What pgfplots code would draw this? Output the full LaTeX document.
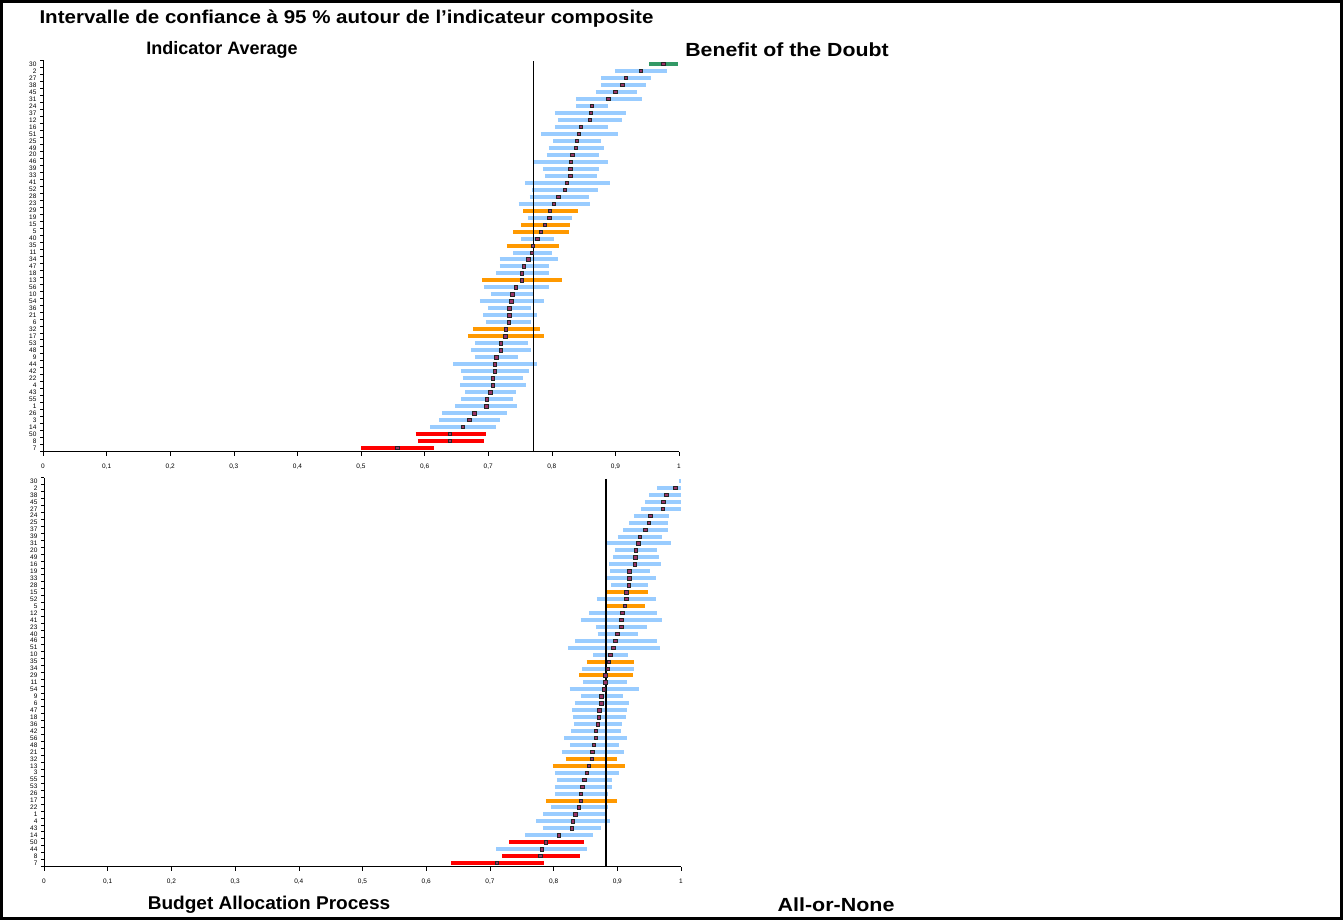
\documentclass[border=0pt]{standalone}
\usepackage{pgfplots}
\pgfplotsset{compat=1.18}
\usepackage{pgfplotstable}
\usepackage{fontspec}
\setmainfont{Liberation Sans}
\definecolor{cblue}{HTML}{99CCFF}
\definecolor{corange}{HTML}{FF9900}
\definecolor{cred}{HTML}{FF0000}
\definecolor{cgreen}{HTML}{339966}
\definecolor{cmark}{HTML}{993366}

% ---------- Indicator Average (top panel) ----------
\pgfplotstableread{
y lo m hi
54 0.899 0.940 0.981
53 0.877 0.916 0.956
52 0.877 0.911 0.948
51 0.869 0.900 0.934
50 0.838 0.889 0.942
49 0.838 0.863 0.889
48 0.805 0.861 0.917
47 0.809 0.860 0.910
46 0.805 0.846 0.888
45 0.783 0.842 0.904
44 0.802 0.839 0.877
43 0.795 0.838 0.882
42 0.792 0.832 0.874
41 0.772 0.830 0.889
40 0.786 0.829 0.874
39 0.789 0.829 0.871
38 0.758 0.824 0.891
37 0.769 0.820 0.872
36 0.765 0.810 0.858
35 0.748 0.803 0.860
33 0.763 0.796 0.831
30 0.752 0.777 0.803
28 0.739 0.769 0.801
27 0.718 0.763 0.809
26 0.718 0.756 0.796
25 0.712 0.753 0.795
23 0.693 0.743 0.795
22 0.704 0.738 0.772
21 0.687 0.736 0.788
20 0.700 0.733 0.767
19 0.692 0.733 0.776
18 0.696 0.732 0.768
15 0.679 0.720 0.763
14 0.673 0.720 0.767
13 0.679 0.713 0.747
12 0.645 0.710 0.777
11 0.657 0.710 0.764
10 0.660 0.707 0.755
9 0.656 0.707 0.759
8 0.664 0.703 0.743
7 0.658 0.698 0.739
6 0.648 0.697 0.746
5 0.627 0.678 0.730
4 0.623 0.670 0.719
3 0.609 0.660 0.713
}\topblue
\pgfplotstableread{
y lo m hi
34 0.755 0.797 0.841
32 0.752 0.789 0.828
31 0.739 0.783 0.827
29 0.729 0.770 0.812
24 0.690 0.753 0.816
17 0.676 0.728 0.781
16 0.668 0.727 0.788
}\toporange
\pgfplotstableread{
y lo m hi
2 0.586 0.640 0.697
1 0.589 0.640 0.693
0 0.500 0.557 0.615
}\topred
\pgfplotstableread{
y lo m hi
55 0.953 0.975 0.998
}\topgreen

% ---------- Budget Allocation Process (bottom panel) ----------
\pgfplotstableread{
y lo m hi
55 0.997 1.000 1.000
54 0.963 0.991 1.000
53 0.950 0.977 1.000
52 0.943 0.972 1.000
51 0.937 0.971 1.000
50 0.926 0.952 0.981
49 0.919 0.949 0.980
48 0.909 0.944 0.979
47 0.901 0.935 0.970
46 0.883 0.933 0.985
45 0.896 0.929 0.963
44 0.893 0.928 0.965
43 0.887 0.927 0.968
42 0.889 0.919 0.951
41 0.880 0.919 0.960
40 0.890 0.918 0.948
38 0.868 0.914 0.961
36 0.856 0.908 0.963
35 0.843 0.906 0.970
34 0.866 0.906 0.946
33 0.869 0.900 0.933
32 0.834 0.897 0.962
31 0.823 0.894 0.967
30 0.862 0.889 0.917
28 0.845 0.885 0.926
26 0.846 0.881 0.915
25 0.825 0.879 0.934
24 0.843 0.875 0.909
23 0.833 0.875 0.918
22 0.829 0.872 0.915
21 0.830 0.871 0.913
20 0.832 0.869 0.908
19 0.828 0.866 0.906
18 0.817 0.866 0.915
17 0.826 0.863 0.902
16 0.813 0.861 0.910
13 0.802 0.852 0.903
12 0.805 0.848 0.891
11 0.802 0.845 0.891
10 0.802 0.843 0.885
8 0.796 0.840 0.886
7 0.784 0.834 0.884
6 0.773 0.830 0.888
5 0.783 0.829 0.875
4 0.755 0.808 0.862
2 0.710 0.781 0.853
}\botblue
\pgfplotstableread{
y lo m hi
39 0.884 0.914 0.948
37 0.884 0.912 0.943
29 0.852 0.887 0.926
27 0.840 0.881 0.924
15 0.819 0.860 0.900
14 0.799 0.855 0.912
9 0.788 0.843 0.900
}\botorange
\pgfplotstableread{
y lo m hi
3 0.730 0.788 0.847
1 0.719 0.779 0.841
0 0.639 0.711 0.785
}\botred

\pgfplotsset{
  ciaxis/.style={
    scale only axis, anchor=south west,
    xmin=0, xmax=1, ymin=-0.5, ymax=55.5,
    axis lines*=left, axis line style={line width=0.9pt},
    clip=false,
    xtick={0,0.1,0.2,0.3,0.4,0.5,0.6,0.7,0.8,0.9,1},
    xticklabels={0,{0,1},{0,2},{0,3},{0,4},{0,5},{0,6},{0,7},{0,8},{0,9},1},
    ytick={0,...,55},
    minor ytick={-0.5,0.5,...,55.5},
    major y tick style={draw=none},
    tick align=outside,
    major tick length=4pt, minor tick length=3pt,
    tick style={black, line width=0.6pt},
    ticklabel style={font=\fontsize{6.5}{7}\selectfont},
    yticklabel style={xshift=1pt},
    xticklabel style={yshift=-5pt},
    /pgf/number format/assume math mode=true,
  },
  cibar/.style={draw=none, mark=none, forget plot,
    error bars/.cd, x dir=plus, x explicit, error mark=none,
    error bar style={draw=#1, line width=4pt}},
  cimark/.style={only marks, mark=square*, mark size=1.7pt,
    mark options={fill=cmark, draw=black!85, line width=0.6pt}},
}

\begin{document}
\begin{tikzpicture}
\useasboundingbox (0pt,0pt) rectangle (1343pt,-920pt);
\draw[line width=3pt] (1.5pt,-1.5pt) rectangle (1341.5pt,-918.5pt);

\node[anchor=west, font=\fontsize{18.5}{20}\selectfont\bfseries] at (36pt,-19pt) {\scalebox{1.11}[1]{Intervalle de confiance à 95 \% autour de l’indicateur composite}};
\node[font=\fontsize{18}{20}\selectfont\bfseries] at (222pt,-50pt) {Indicator Average};
\node[font=\fontsize{19}{21}\selectfont\bfseries] at (787pt,-50pt) {\scalebox{1.12}[1]{Benefit of the Doubt}};
\node[font=\fontsize{18.5}{21}\selectfont\bfseries] at (269pt,-905pt) {\scalebox{1.03}[1]{Budget Allocation Process}};
\node[font=\fontsize{19}{21}\selectfont\bfseries] at (836pt,-905pt) {\scalebox{1.13}[1]{All-or-None}};

% ---- top panel ----
\begin{axis}[ciaxis, at={(43pt,-451.5pt)}, width=636pt, height=391pt,
  yticklabels={7,8,50,14,3,26,1,55,43,4,22,42,44,9,48,53,17,32,6,21,36,54,10,56,13,18,47,34,11,35,40,5,15,19,29,23,28,52,41,33,39,46,20,49,25,51,16,12,37,24,31,45,38,27,2,30}]
  \addplot[cibar=cblue] table[x=lo, y=y, x error expr=\thisrow{hi}-\thisrow{lo}] {\topblue};
  \addplot[cibar=corange] table[x=lo, y=y, x error expr=\thisrow{hi}-\thisrow{lo}] {\toporange};
  \addplot[cibar=cred] table[x=lo, y=y, x error expr=\thisrow{hi}-\thisrow{lo}] {\topred};
  \addplot[cibar=cgreen] table[x=lo, y=y, x error expr=\thisrow{hi}-\thisrow{lo}] {\topgreen};
  \addplot[black, line width=1.6pt] coordinates {(0.771,55.4) (0.771,-0.5)};
  \addplot[cimark] table[x=m, y=y] {\topblue};
  \addplot[cimark] table[x=m, y=y] {\toporange};
  \addplot[cimark] table[x=m, y=y] {\topred};
  \addplot[cimark] table[x=m, y=y] {\topgreen};
\end{axis}

% ---- bottom panel ----
\begin{axis}[ciaxis, at={(44pt,-866.5pt)}, width=637pt, height=389pt,
  yticklabels={7,8,44,50,14,43,4,1,22,17,26,53,55,3,13,32,21,48,56,42,36,18,47,6,9,54,11,29,34,35,10,51,46,40,23,41,12,5,52,15,28,33,19,16,49,20,31,39,37,25,24,27,45,38,2,30}]
  \addplot[cibar=cblue] table[x=lo, y=y, x error expr=\thisrow{hi}-\thisrow{lo}] {\botblue};
  \addplot[cibar=corange] table[x=lo, y=y, x error expr=\thisrow{hi}-\thisrow{lo}] {\botorange};
  \addplot[cibar=cred] table[x=lo, y=y, x error expr=\thisrow{hi}-\thisrow{lo}] {\botred};
  \addplot[black, line width=1.6pt] coordinates {(0.882,55.3) (0.882,-0.5)};
  \addplot[cimark, restrict x to domain=0:0.9995] table[x=m, y=y] {\botblue};
  \addplot[cimark] table[x=m, y=y] {\botorange};
  \addplot[cimark] table[x=m, y=y] {\botred};
\end{axis}
\end{tikzpicture}
\end{document}
